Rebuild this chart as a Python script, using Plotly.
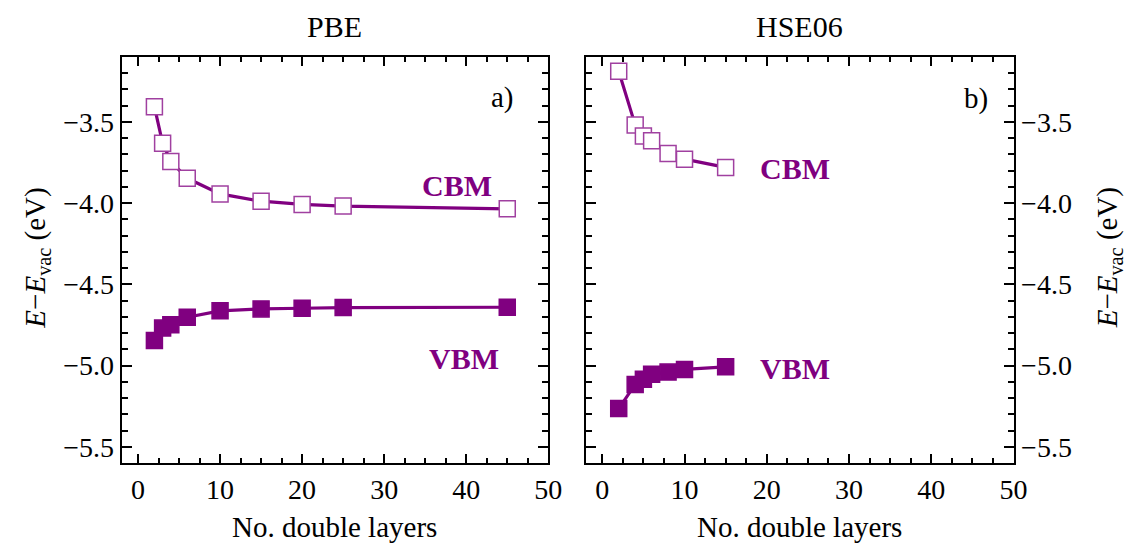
import plotly.graph_objects as go

# PBE data
pbe_x = [2, 3, 4, 6, 10, 15, 20, 25, 45]
pbe_cbm = [-3.406, -3.631, -3.743, -3.847, -3.943, -3.988, -4.008, -4.018, -4.035]
pbe_vbm = [-4.845, -4.769, -4.748, -4.702, -4.663, -4.651, -4.647, -4.643, -4.641]

# HSE06 data
hse_x = [2, 4, 5, 6, 8, 10, 15]
hse_cbm = [-3.188, -3.518, -3.586, -3.616, -3.694, -3.729, -3.780]
hse_vbm = [-5.265, -5.116, -5.085, -5.054, -5.040, -5.024, -5.008]

panel_titles = ["PBE", "HSE06"]
panel_labels = ["a)", "b)"]
xtick_vals = [0, 10, 20, 30, 40, 50]

PURPLE = "#800080"
EDGE = "#a040a0"
FONT = "Liberation Serif"

fig = go.Figure()

def add_series(x, y, xa, ya, filled):
    fig.add_trace(go.Scatter(
        x=x, y=y, xaxis=xa, yaxis=ya, mode="lines+markers",
        line=dict(color=PURPLE, width=3.2),
        marker=dict(symbol="square", size=16,
                    color=PURPLE if filled else "white",
                    line=dict(color=PURPLE if filled else EDGE, width=1.5)),
        showlegend=False, cliponaxis=False))

add_series(pbe_x, pbe_cbm, "x", "y", False)
add_series(pbe_x, pbe_vbm, "x", "y", True)
add_series(hse_x, hse_cbm, "x2", "y2", False)
add_series(hse_x, hse_vbm, "x2", "y2", True)

W, H = 1141, 544
def fx(px): return px / W
def fy(py): return 1 - py / H

xcommon = dict(range=[-2, 50], tickvals=xtick_vals, ticks="inside", ticklen=9, tickwidth=2,
               tickcolor="black", showline=True, linecolor="black", linewidth=2, mirror="allticks",
               showgrid=False, zeroline=False,
               minor=dict(dtick=2.5, tick0=0, ticks="inside", ticklen=5, tickwidth=2, tickcolor="black"),
               tickfont=dict(family=FONT, size=28, color="black"), fixedrange=True)
ycommon = dict(range=[-5.6, -3.1], dtick=0.5, tick0=-5.5, tickformat=".1f", ticks="inside", ticklen=10,
               tickwidth=2, tickcolor="black", showline=True, linecolor="black", linewidth=2,
               mirror="allticks", showgrid=False, zeroline=False,
               minor=dict(dtick=0.1, ticks="inside", ticklen=6, tickwidth=2, tickcolor="black"),
               tickfont=dict(family=FONT, size=28, color="black"), fixedrange=True)

y0, y1 = fy(455), fy(49)
fig.update_layout(
    width=W, height=H, margin=dict(l=0, r=0, t=0, b=0),
    paper_bgcolor="white", plot_bgcolor="white",
    font=dict(family=FONT),
    xaxis=dict(domain=[fx(115), fx(547)], anchor="y", **xcommon),
    yaxis=dict(domain=[y0, y1], anchor="x", side="left", **ycommon),
    xaxis2=dict(domain=[fx(585), fx(1018)], anchor="y2", **xcommon),
    yaxis2=dict(domain=[y0, y1], anchor="x2", side="right", **ycommon),
)

ann = []
def txt(x, y, s, size=28, bold=False, color="black", angle=0, xanchor="center"):
    if bold:
        s = "<b>" + s + "</b>"
    ann.append(dict(x=fx(x), y=fy(y), xref="paper", yref="paper", text=s, showarrow=False,
                    xanchor=xanchor, yanchor="middle", textangle=angle,
                    font=dict(family=FONT, size=size, color=color)))

txt(331, 19, panel_titles[0], size=30)
txt(801, 19, panel_titles[1], size=30)
txt(514, 90, panel_labels[0], size=29, xanchor="right")
txt(994, 91, panel_labels[1], size=29, xanchor="right")
txt(455, 178, "CBM", size=30, bold=True, color=PURPLE)
txt(462, 350, "VBM", size=30, bold=True, color=PURPLE)
txt(797, 161, "CBM", size=30, bold=True, color=PURPLE)
txt(797, 360, "VBM", size=30, bold=True, color=PURPLE)
txt(331, 519, "No. double layers", size=29)
txt(801, 519, "No. double layers", size=29)
ytitle = "<i>E</i>\u2212<i>E</i><sub>vac</sub> (eV)"
txt(29, 250, ytitle, size=29, angle=-90)
txt(1115, 250, ytitle, size=29, angle=-90)
fig.update_layout(annotations=ann)

fig.write_html("out.html")
